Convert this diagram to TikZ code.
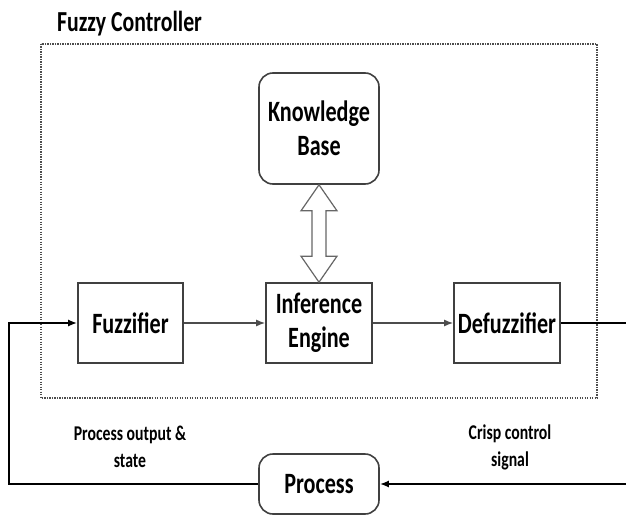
\documentclass[tikz,border=0pt]{standalone}
\usepackage{fontspec}
\setmainfont{Carlito}
\newfontfamily\cf[FakeStretch=0.75]{Carlito}
\usetikzlibrary{arrows.meta,calc}
\begin{document}
\begin{tikzpicture}[x=1pt,y=-1pt,
  blk/.style={draw=black!75, line width=1.6pt, fill=white, inner sep=0pt, font=\cf\bfseries\fontsize{29.5}{34}\selectfont, align=center},
  sq/.style={blk, minimum width=106pt, minimum height=80pt},
  rnd/.style={blk, rounded corners=14pt},
  conn/.style={draw=black!70, line width=1.5pt, -{Latex[length=9pt,width=7pt]}},
  fb/.style={draw=black, line width=2pt},
  fbarrow/.style={fb, -{Latex[length=9pt,width=7pt]}},
  lbl/.style={font=\cf\bfseries\fontsize{21}{27}\selectfont, align=center},
  ttl/.style={font=\cf\bfseries\fontsize{29}{32}\selectfont, anchor=base west, inner sep=0pt},
  frame/.style={draw=black!70, line width=1.3pt, dash pattern=on 1.2pt off 1.3pt}]
\useasboundingbox (0,0) rectangle (626,516);
\draw[frame] (41,44) rectangle (597,398);
\node[ttl] (title) at (57,32) {Fuzzy Controller};
\node[rnd, minimum width=120pt, minimum height=111pt] (kb) at (319,128.5) {Knowledge\\Base};
\node[sq, minimum width=105pt] (fuz) at (130.5,323) {Fuzzifier};
\node[sq] (ie) at (319,323) {Inference\\Engine};
\node[sq] (def) at (507,323) {Defuzzifier};
\node[rnd, minimum width=120pt, minimum height=60pt] (proc) at (319,484) {Process};
\node[lbl] (lo) at (130,447) {Process output \&\\state};
\node[lbl] (lc) at (510,447) {Crisp control\\signal};
% double arrow
\draw[draw=black!60, line width=1.2pt, fill=white]
  (kb.south) -- ++(18,26) -- ++(-11,0) -- ($(ie.north)+(7,-26)$) -- ++(11,0)
  -- (ie.north) -- ++(-18,-26) -- ++(11,0) -- ($(kb.south)+(-7,26)$) -- ++(-11,0) -- cycle;
\draw[conn] (fuz) -- (ie);
\draw[conn] (ie) -- (def);
\coordinate (r1) at (629,323);
\coordinate (r2) at (629,484);
\coordinate (l1) at (9,484);
\coordinate (l2) at (9,323);
\draw[fbarrow] (def.east) -- (r1) -- (r2) -- (proc.east);
\draw[fbarrow] (proc.west) -- (l1) -- (l2) -- (fuz.west);
\end{tikzpicture}
\end{document}
